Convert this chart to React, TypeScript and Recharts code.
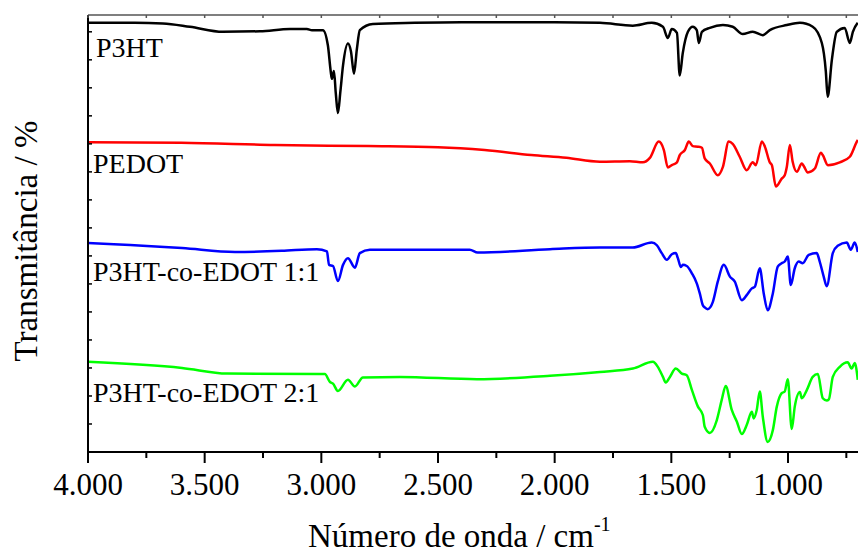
// @ts-nocheck
import React from "react";
import { LineChart, Line, XAxis, YAxis } from "recharts";

// FTIR spectra, offset in the stack (arbitrary transmittance units)
const p3htWn = [4000, 3800, 3679, 3563, 3422, 3263, 3134, 3062, 3040, 2993, 2972, 2960, 2955, 2946, 2938, 2929, 2918, 2907, 2886, 2873, 2860, 2848, 2835, 2779, 2600, 2400, 2200, 2000, 1806, 1665, 1584, 1536, 1515, 1498, 1476, 1464, 1451, 1429, 1408, 1391, 1382, 1369, 1335, 1279, 1237, 1194, 1151, 1108, 1078, 1005, 949, 894, 855, 838, 830, 812, 791, 757, 735, 722, 701];
const p3htT = [76.6, 76.6, 76.5, 75.9, 75.0, 75.1, 75.5, 75.5, 75.3, 75.3, 72.6, 68.0, 66.6, 68.0, 64.0, 60.5, 64.5, 69.0, 72.9, 71.5, 67.5, 71.8, 75.3, 76.4, 76.6, 76.7, 76.7, 76.7, 76.6, 76.1, 76.6, 75.9, 73.9, 75.5, 74.8, 67.2, 71.2, 75.0, 75.9, 75.3, 73.0, 75.0, 75.7, 76.2, 75.9, 74.6, 75.0, 74.4, 75.3, 76.2, 76.6, 75.9, 73.0, 68.0, 63.4, 70.0, 75.0, 75.7, 73.0, 75.0, 76.6];

const pedotWn = [4000, 3600, 3200, 2800, 2500, 2300, 2100, 1950, 1806, 1678, 1622, 1592, 1554, 1532, 1515, 1498, 1476, 1464, 1442, 1425, 1408, 1386, 1369, 1357, 1335, 1301, 1279, 1254, 1237, 1207, 1177, 1151, 1138, 1112, 1099, 1078, 1069, 1052, 1027, 1014, 1005, 992, 980, 962, 941, 932, 915, 885, 859, 851, 829, 778, 735, 705, 701];
const pedotT = [55.3, 55.2, 54.8, 54.6, 54.4, 53.9, 53.0, 52.5, 51.8, 51.9, 51.7, 52.5, 55.4, 53.9, 50.8, 51.2, 51.7, 53.0, 53.9, 55.4, 54.6, 54.5, 54.3, 52.4, 51.5, 49.4, 50.9, 55.4, 55.0, 52.7, 50.3, 51.7, 51.2, 55.4, 54.5, 51.7, 51.2, 47.4, 48.8, 49.4, 50.9, 54.8, 51.8, 50.0, 51.5, 51.0, 49.9, 50.6, 53.4, 53.0, 51.2, 51.7, 52.7, 55.4, 55.7];

const co11Wn = [4000, 3889, 3597, 3370, 3170, 3019, 2976, 2967, 2950, 2929, 2907, 2886, 2856, 2835, 2792, 2364, 2330, 2020, 1806, 1665, 1584, 1562, 1541, 1519, 1498, 1481, 1472, 1459, 1451, 1434, 1412, 1391, 1378, 1365, 1357, 1344, 1322, 1301, 1275, 1249, 1228, 1198, 1177, 1155, 1142, 1121, 1104, 1087, 1065, 1044, 1027, 1014, 1001, 988, 971, 954, 937, 911, 877, 864, 847, 834, 808, 787, 748, 731, 714, 701];
const co11T = [37.3, 37.1, 36.4, 35.7, 35.9, 36.2, 35.8, 33.4, 33.2, 30.5, 33.4, 34.6, 32.9, 35.5, 36.1, 36.1, 35.6, 36.2, 36.5, 36.5, 37.4, 36.9, 35.5, 34.3, 35.3, 35.5, 34.6, 33.0, 33.4, 33.2, 31.9, 30.1, 28.3, 26.2, 25.8, 25.5, 26.8, 30.4, 33.4, 31.3, 30.4, 27.1, 28.0, 29.2, 29.5, 32.8, 28.3, 25.3, 28.3, 33.1, 33.7, 34.0, 34.9, 29.8, 32.8, 34.0, 33.7, 35.2, 35.5, 34.0, 31.3, 29.6, 35.5, 36.8, 37.4, 36.1, 37.4, 35.7];

const co21Wn = [4000, 3597, 3404, 3006, 2985, 2963, 2950, 2929, 2886, 2856, 2822, 2663, 2333, 2020, 1806, 1665, 1579, 1558, 1536, 1524, 1506, 1481, 1455, 1434, 1412, 1386, 1365, 1357, 1335, 1305, 1284, 1267, 1241, 1219, 1198, 1177, 1155, 1147, 1134, 1121, 1108, 1087, 1065, 1048, 1027, 1014, 1001, 984, 971, 949, 941, 919, 894, 872, 851, 834, 825, 808, 778, 744, 727, 714, 701];
const co21T = [16.1, 15.0, 14.0, 13.9, 13.9, 12.5, 12.2, 10.9, 12.9, 11.7, 13.3, 13.4, 13.0, 13.6, 14.3, 14.9, 16.1, 15.2, 13.4, 12.4, 13.4, 14.9, 14.0, 13.7, 11.1, 8.1, 6.6, 4.5, 3.4, 5.7, 9.3, 11.8, 7.5, 5.4, 3.2, 4.8, 7.2, 6.0, 7.5, 10.8, 6.3, 1.8, 3.9, 8.1, 10.5, 10.8, 13.0, 4.1, 8.1, 10.7, 9.6, 11.1, 13.4, 13.9, 9.6, 9.2, 9.4, 13.4, 15.2, 16.0, 14.9, 15.9, 12.9];

const seriesNames = ["P3HT", "PEDOT", "P3HT-co-EDOT 1:1", "P3HT-co-EDOT 2:1"];
const seriesColors = ["#000000", "#ff0000", "#0000ff", "#00ff00"];

const xTicks = [4000, 3750, 3500, 3250, 3000, 2750, 2500, 2250, 2000, 1750, 1500, 1250, 1000, 750];
const yTicks = [0, 5, 10, 15, 20, 25, 30, 35, 40, 45, 50, 55, 60, 65, 70, 75];

const rows = (wn, t) => wn.map((w, i) => ({ wn: w, t: t[i] }));
const series = [rows(p3htWn, p3htT), rows(pedotWn, pedotT), rows(co11Wn, co11T), rows(co21Wn, co21T)];

const FONT = "'Liberation Serif', 'Times New Roman', serif";
const fmt = v => Math.floor(v / 1000) + "." + String(v % 1000).padStart(3, "0");

const BottomTick = ({ x, y, payload }) => {
  const major = payload.value % 500 === 0;
  return (
    <g>
      <line x1={x} x2={x} y1={y} y2={y + (major ? 11 : 6)} stroke="#000" strokeWidth={2} />
      {major && (
        <text x={x} y={y + 43} textAnchor="middle" fontSize={31} fontFamily={FONT} fill="#000">{fmt(payload.value)}</text>
      )}
    </g>
  );
};

const TopTick = ({ x, y }) => <line x1={x} x2={x} y1={y} y2={y + 3} stroke="#555" strokeWidth={1.5} />;
const LeftTick = ({ x, y }) => <line x1={x} x2={x + 4} y1={y} y2={y} stroke="#000" strokeWidth={1.5} />;

const labelPos = [[96, 57], [93, 173], [93, 281], [93, 402]];

export default function App() {
  return (
    <div style={{ position: "absolute", left: 0, top: 0, width: 859, height: 554, background: "#fff" }}>
      <LineChart width={859} height={554} data={series[0]} margin={{ top: 14, right: 1, left: 87, bottom: 0 }}>
        <XAxis xAxisId="b" dataKey="wn" type="number" domain={[700, 4000]} reversed allowDataOverflow
          ticks={xTicks} interval={0} height={102} tickSize={0} tickMargin={0} tickLine={false}
          axisLine={{ stroke: "#000", strokeWidth: 2 }} tick={BottomTick} />
        <XAxis xAxisId="t" orientation="top" dataKey="wn" type="number" domain={[700, 4000]} reversed allowDataOverflow
          ticks={xTicks} interval={0} height={1} tickSize={0} tickMargin={0} tickLine={false}
          axisLine={{ stroke: "#555", strokeWidth: 1.5 }} tick={TopTick} />
        <YAxis type="number" domain={[0, 78]} ticks={yTicks} interval={0} width={1} tickSize={0} tickMargin={0}
          tickLine={false} axisLine={{ stroke: "#000", strokeWidth: 2 }} tick={LeftTick} allowDataOverflow />
        {series.map((d, i) => (
          <Line key={seriesNames[i]} xAxisId="b" data={d} dataKey="t" type="monotone" stroke={seriesColors[i]}
            strokeWidth={2.5} dot={false} isAnimationActive={false} />
        ))}
      </LineChart>
      <svg width={859} height={554} style={{ position: "absolute", left: 0, top: 0, pointerEvents: "none" }}>
        {seriesNames.map((n, i) => (
          <text key={n} x={labelPos[i][0]} y={labelPos[i][1]} fontSize={28} fontFamily={FONT} fill="#000">{n}</text>
        ))}
        <text x={37} y={241} transform="rotate(-90 37 241)" textAnchor="middle" fontSize={33} fontFamily={FONT} fill="#000">
          Transmitância / %
        </text>
        <text x={308} y={547} fontSize={33} fontFamily={FONT} fill="#000">
          Número de onda / cm<tspan dy={-16} fontSize={20}>-1</tspan>
        </text>
      </svg>
    </div>
  );
}
